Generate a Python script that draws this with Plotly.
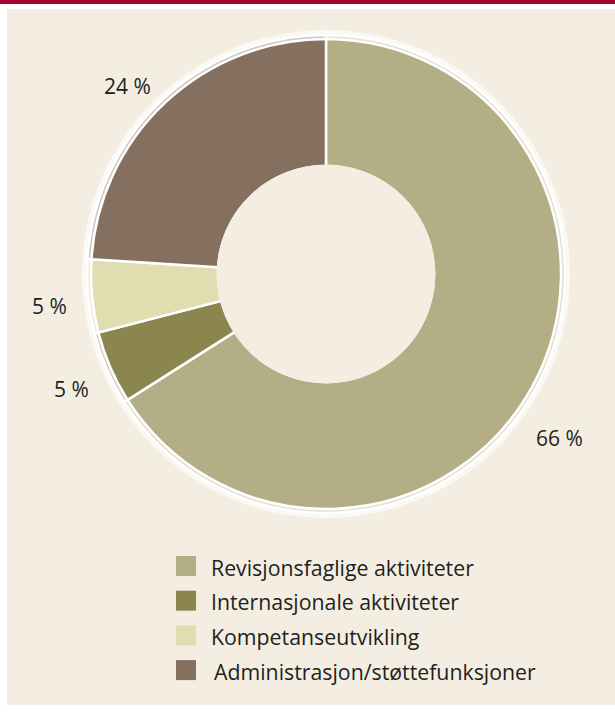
import plotly.graph_objects as go

labels = ["Revisjonsfaglige aktiviteter", "Internasjonale aktiviteter",
          "Kompetanseutvikling", "Administrasjon/støttefunksjoner"]
values = [66, 5, 5, 24]
colors = ["#b3ae85", "#8b864e", "#e0ddb1", "#85705f"]
rim_colors = ["#e3e1d1", "#d6d3c2", "#eeecdc", "#cfc7c2"]
pct_labels = ["66 %", "5 %", "5 %", "24 %"]

W, H = 615, 716
BG = "#f4eee2"
FONT = "Open Sans"

cx, cy = 326, 274          # pie centre in pixels (from top-left)
R, R_RIM, R_HALO, R_HOLE = 235, 239, 244, 108


def dom(r):
    return dict(x=[(cx - r) / W, (cx + r) / W],
                y=[(H - cy - r) / H, (H - cy + r) / H])


fig = go.Figure()

# outer halo
fig.add_trace(go.Pie(values=[1], labels=["halo"], marker=dict(colors=["#fbf9f4"]),
                     hole=0.85, domain=dom(R_HALO), textinfo="none",
                     showlegend=False, hoverinfo="skip", sort=False))
# bevel rim
fig.add_trace(go.Pie(values=values, labels=labels,
                     marker=dict(colors=rim_colors, line=dict(color="white", width=2.5)),
                     hole=R_HOLE / R_RIM, domain=dom(R_RIM), textinfo="none",
                     direction="clockwise", rotation=0, sort=False,
                     showlegend=False, hoverinfo="skip"))
# main donut
fig.add_trace(go.Pie(values=values, labels=labels,
                     marker=dict(colors=colors, line=dict(color="white", width=2.5)),
                     hole=R_HOLE / R, domain=dom(R), textinfo="none",
                     direction="clockwise", rotation=0, sort=False,
                     showlegend=False))

rh = R_HOLE + 1.4
shapes = [
    # beige panel
    dict(type="rect", xref="paper", yref="paper", x0=7 / W, x1=1,
         y0=(H - 705) / H, y1=(H - 9) / H, fillcolor=BG, line=dict(width=0), layer="below"),
    # red top band
    dict(type="rect", xref="paper", yref="paper", x0=0, x1=1,
         y0=(H - 4) / H, y1=1, fillcolor="#a6022f", line=dict(width=0), layer="below"),
    # clean hole edge (hide slice outline around the hole)
    dict(type="circle", xref="paper", yref="paper",
         x0=(cx - rh) / W, x1=(cx + rh) / W, y0=(H - cy - rh) / H, y1=(H - cy + rh) / H,
         fillcolor=BG, line=dict(width=0), layer="above"),
]

annotations = []
# percentage labels
label_pos = [(559, 438), (71, 389), (49, 306), (127, 86)]
for txt, (px, py) in zip(pct_labels, label_pos):
    annotations.append(dict(text=txt, x=px / W, y=(H - py) / H, xref="paper", yref="paper",
                            showarrow=False, xanchor="center", yanchor="middle",
                            font=dict(family=FONT, size=21, color="#231f20")))

# manual legend
for i, (lab, col) in enumerate(zip(labels, colors)):
    top = 556 + i * 34.7
    shapes.append(dict(type="rect", xref="paper", yref="paper",
                       x0=176 / W, x1=196 / W, y0=(H - top - 20) / H, y1=(H - top) / H,
                       fillcolor=col, line=dict(width=0)))
    tx = 212 if i == 3 else 209
    annotations.append(dict(text=lab, x=tx / W, y=(H - top - 11) / H, xref="paper", yref="paper",
                            showarrow=False, xanchor="left", yanchor="middle",
                            font=dict(family=FONT, size=21.3, color="#231f20")))

fig.update_layout(width=W, height=H, margin=dict(l=0, r=0, t=0, b=0),
                  paper_bgcolor="white", plot_bgcolor=BG,
                  shapes=shapes, annotations=annotations, showlegend=False)

fig.write_html("out.html")
